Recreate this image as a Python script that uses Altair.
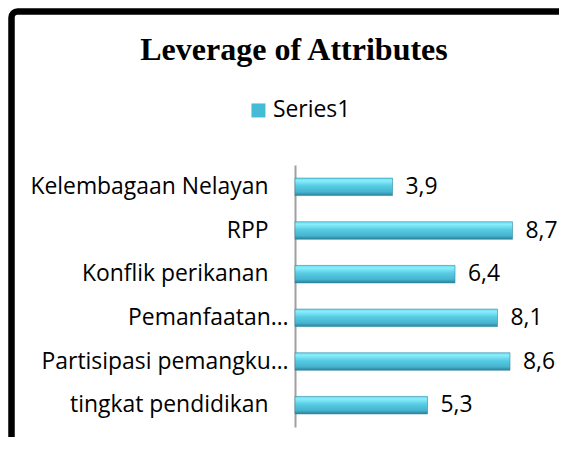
import altair as alt
import pandas as pd

categories = ["Kelembagaan Nelayan", "RPP", "Konflik perikanan", "Pemanfaatan…",
              "Partisipasi pemangku…", "tingkat pendidikan"]
values = [3.9, 8.7, 6.4, 8.1, 8.6, 5.3]
series_name = "Series1"
title_text = "Leverage of Attributes"

df = pd.DataFrame({"attr": categories, "value": values, "series": [series_name] * len(values)})

FONT = "Open Sans"
FS = 22.9

grad = alt.Gradient(
    gradient="linear", x1=0, x2=0, y1=0, y2=1,
    stops=[
        alt.GradientStop(color="#6fdcf2", offset=0),
        alt.GradientStop(color="#88eefc", offset=0.15),
        alt.GradientStop(color="#58cbe4", offset=0.45),
        alt.GradientStop(color="#46b4cf", offset=0.8),
        alt.GradientStop(color="#2c7f98", offset=1),
    ],
)

base = alt.Chart(df)

y_enc = alt.Y(
    "attr:N", sort=categories, title=None,
    scale=alt.Scale(paddingInner=0.6, paddingOuter=0.3),
    axis=alt.Axis(
        domainColor="#a0a0a0", domainWidth=2, ticks=False, grid=False,
        labelFont=FONT, labelFontSize=FS, labelColor="#000000",
        labelPadding={"condition": {"test": "indexof(datum.value, '…') >= 0", "value": 7}, "value": 27},
        labelLimit=400,
    ),
)
x_enc = alt.X("value:Q", scale=alt.Scale(domain=[0, 10]), axis=None)

bars = base.mark_bar(fill=grad, stroke="#2f8aa3", strokeWidth=0.6).encode(x=x_enc, y=y_enc)

labels = base.transform_calculate(
    lbl="replace(format(datum.value, '.1f'), '.', ',')"
).mark_text(align="left", baseline="middle", dx=13, font=FONT, fontSize=FS, color="#000000").encode(
    x=x_enc, y=y_enc, text="lbl:N"
)

legend_layer = base.mark_square(size=0, opacity=0).encode(
    x=x_enc, y=y_enc,
    fill=alt.Fill(
        "series:N", scale=alt.Scale(range=["#45bcd6"]),
        legend=alt.Legend(
            title=None, orient="none", legendX=-48, legendY=-66, padding=0,
            symbolType="square", symbolSize=196, symbolOpacity=1, symbolStrokeWidth=0,
            labelFont=FONT, labelFontSize=FS, labelColor="#000000", labelOffset=3,
        ),
    ),
)

frame = alt.Chart(pd.DataFrame({"f": [0]})).mark_rect(
    fillOpacity=0, stroke="#000000", strokeWidth=6.5, cornerRadius=6
).encode(
    x=alt.value(-283.5), x2=alt.value(700), y=alt.value(-153.5), y2=alt.value(700)
)

chart = alt.layer(frame, bars, labels, legend_layer).properties(
    width=250, height=262,
    autosize=alt.AutoSizeParams(type="none"),
    padding={"left": 287, "top": 157, "right": 14, "bottom": 10},
    title=alt.TitleParams(
        text=title_text, font="Liberation Serif", fontSize=32, fontWeight="bold",
        color="#000000", anchor="middle", dx=-126, baseline="alphabetic", offset=0, dy=84,
    ),
).configure_view(stroke=None)

chart.save("out.html", embed_options={"renderer": "svg", "actions": False})
